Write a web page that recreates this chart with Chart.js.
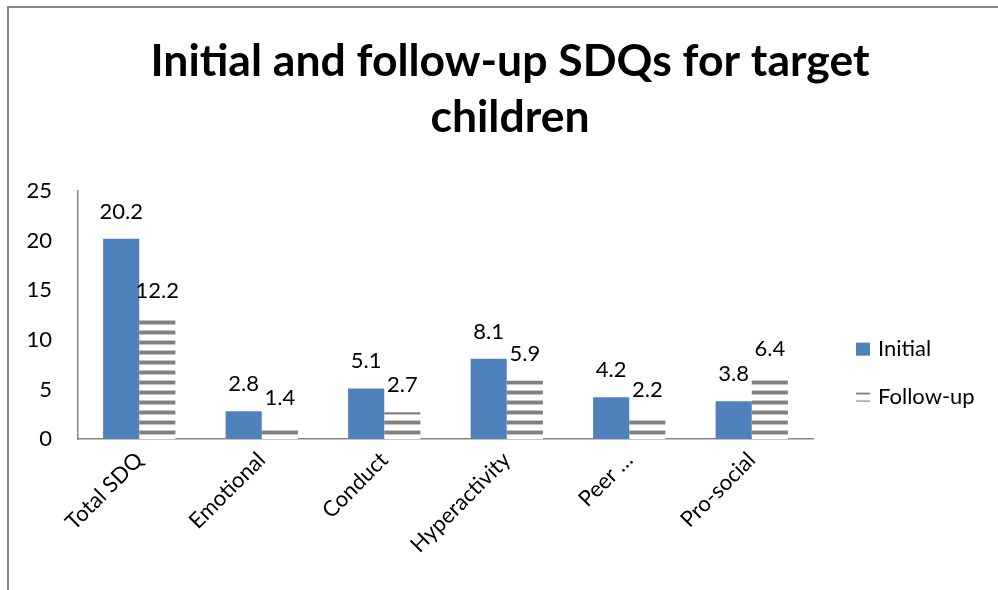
<!DOCTYPE html>
<html>
<head>
<meta charset="utf-8">
<script src="https://cdn.jsdelivr.net/npm/chart.js@4/dist/chart.umd.min.js"></script>
<style>
    html, body { margin: 0; padding: 0; background: #fff; }
    #wrap { width: 998px; height: 590px; }
</style>
</head>
<body>
<div id="wrap"><canvas id="sdqChart" width="998" height="590"></canvas></div>
<script>
var categories = ['Total SDQ', 'Emotional', 'Conduct', 'Hyperactivity', 'Peer \u2026', 'Pro-social'];
var initialScores = [20.2, 2.8, 5.1, 8.1, 4.2, 3.8];
var followUpScores = [12.2, 1.4, 2.7, 5.9, 2.2, 6.4];
var yTicks = [0, 5, 10, 15, 20, 25];

var FONT = 'Lato, "Open Sans", sans-serif';

// grey horizontal stripes on white, used for the follow-up bars
function stripePattern(ctx) {
    var c = document.createElement('canvas');
    c.width = 4;
    c.height = 10;
    var g = c.getContext('2d');
    g.fillStyle = '#ffffff';
    g.fillRect(0, 0, 4, 10);
    g.fillStyle = '#c4c4c4';
    g.fillRect(0, 0, 4, 1);
    g.fillRect(0, 4, 4, 1);
    g.fillStyle = '#808080';
    g.fillRect(0, 1, 4, 3);
    return ctx.createPattern(c, 'repeat');
}

// outer frame of the chart
var framePlugin = {
    id: 'frame',
    beforeDraw: function (chart) {
        var ctx = chart.ctx;
        ctx.save();
        ctx.strokeStyle = '#878787';
        ctx.lineWidth = 2;
        ctx.beginPath();
        ctx.moveTo(8, chart.height);
        ctx.lineTo(8, 7);
        ctx.lineTo(chart.width, 7);
        ctx.stroke();
        ctx.restore();
    }
};

// value printed above every bar
var valueLabels = {
    id: 'valueLabels',
    afterDatasetsDraw: function (chart) {
        var ctx = chart.ctx;
        ctx.save();
        ctx.font = '22px ' + FONT;
        ctx.fillStyle = '#000';
        ctx.textAlign = 'center';
        ctx.textBaseline = 'alphabetic';
        chart.data.datasets.forEach(function (ds, i) {
            chart.getDatasetMeta(i).data.forEach(function (bar, j) {
                ctx.fillText(ds.data[j].toFixed(1), bar.x, bar.y - 20);
            });
        });
        ctx.restore();
    }
};

// legend on the right side of the plot
var sideLegend = {
    id: 'sideLegend',
    afterDraw: function (chart) {
        var ctx = chart.ctx;
        var area = chart.chartArea;
        var x = area.right + 43;
        var rows = [area.top + 158, area.top + 206];
        var swatchH = [13, 9];
        ctx.save();
        ctx.font = '22px ' + FONT;
        ctx.fillStyle = '#000';
        ctx.textBaseline = 'middle';
        chart.data.datasets.forEach(function (ds, i) {
            ctx.fillStyle = ds.backgroundColor;
            ctx.fillRect(x, rows[i] - swatchH[i] / 2, 14, swatchH[i]);
            ctx.fillStyle = '#000';
            ctx.fillText(ds.label, x + 22, rows[i]);
        });
        ctx.restore();
    }
};

var canvas = document.getElementById('sdqChart');
var ctx = canvas.getContext('2d');

var myBarChart = new Chart(ctx, {
    type: 'bar',
    data: {
        labels: categories,
        datasets: [{
            label: 'Initial',
            data: initialScores,
            backgroundColor: '#4f81bd',
            borderWidth: 0
        }, {
            label: 'Follow-up',
            data: followUpScores,
            backgroundColor: stripePattern(ctx),
            borderWidth: 0
        }]
    },
    options: {
        responsive: false,
        animation: false,
        layout: {
            padding: { left: 22, right: 0, top: 0, bottom: 0 }
        },
        datasets: {
            bar: { categoryPercentage: 0.59, barPercentage: 1.0 }
        },
        scales: {
            x: {
                grid: { display: false, drawTicks: false },
                border: { display: true, color: '#878787', width: 1.5 },
                ticks: {
                    color: '#000',
                    font: { family: FONT, size: 22 },
                    minRotation: 45,
                    maxRotation: 45,
                    autoSkip: false,
                    padding: 8
                },
                afterFit: function (scale) { scale.height = 151; }
            },
            y: {
                min: 0,
                max: 25,
                afterBuildTicks: function (scale) {
                    scale.ticks = yTicks.map(function (v) { return { value: v }; });
                },
                grid: { display: false, drawTicks: false },
                border: { display: true, color: '#878787', width: 1.5 },
                ticks: {
                    color: '#000',
                    font: { family: FONT, size: 22 },
                    padding: 26
                },
                afterFit: function (scale) { scale.width = 56; }
            },
            legendSpace: {
                position: 'right',
                display: true,
                grid: { display: false, drawTicks: false },
                border: { display: false },
                ticks: { display: false },
                afterFit: function (scale) { scale.width = 185; }
            }
        },
        plugins: {
            legend: { display: false },
            tooltip: { enabled: false },
            title: {
                display: true,
                text: ['Initial and follow-up SDQs for target', 'children'],
                color: '#000',
                font: { family: FONT, size: 44.5, weight: 'bold', lineHeight: 1.26 },
                padding: { top: 34, bottom: 45 }
            }
        }
    },
    plugins: [framePlugin, valueLabels, sideLegend]
});
</script>
</body>
</html>
